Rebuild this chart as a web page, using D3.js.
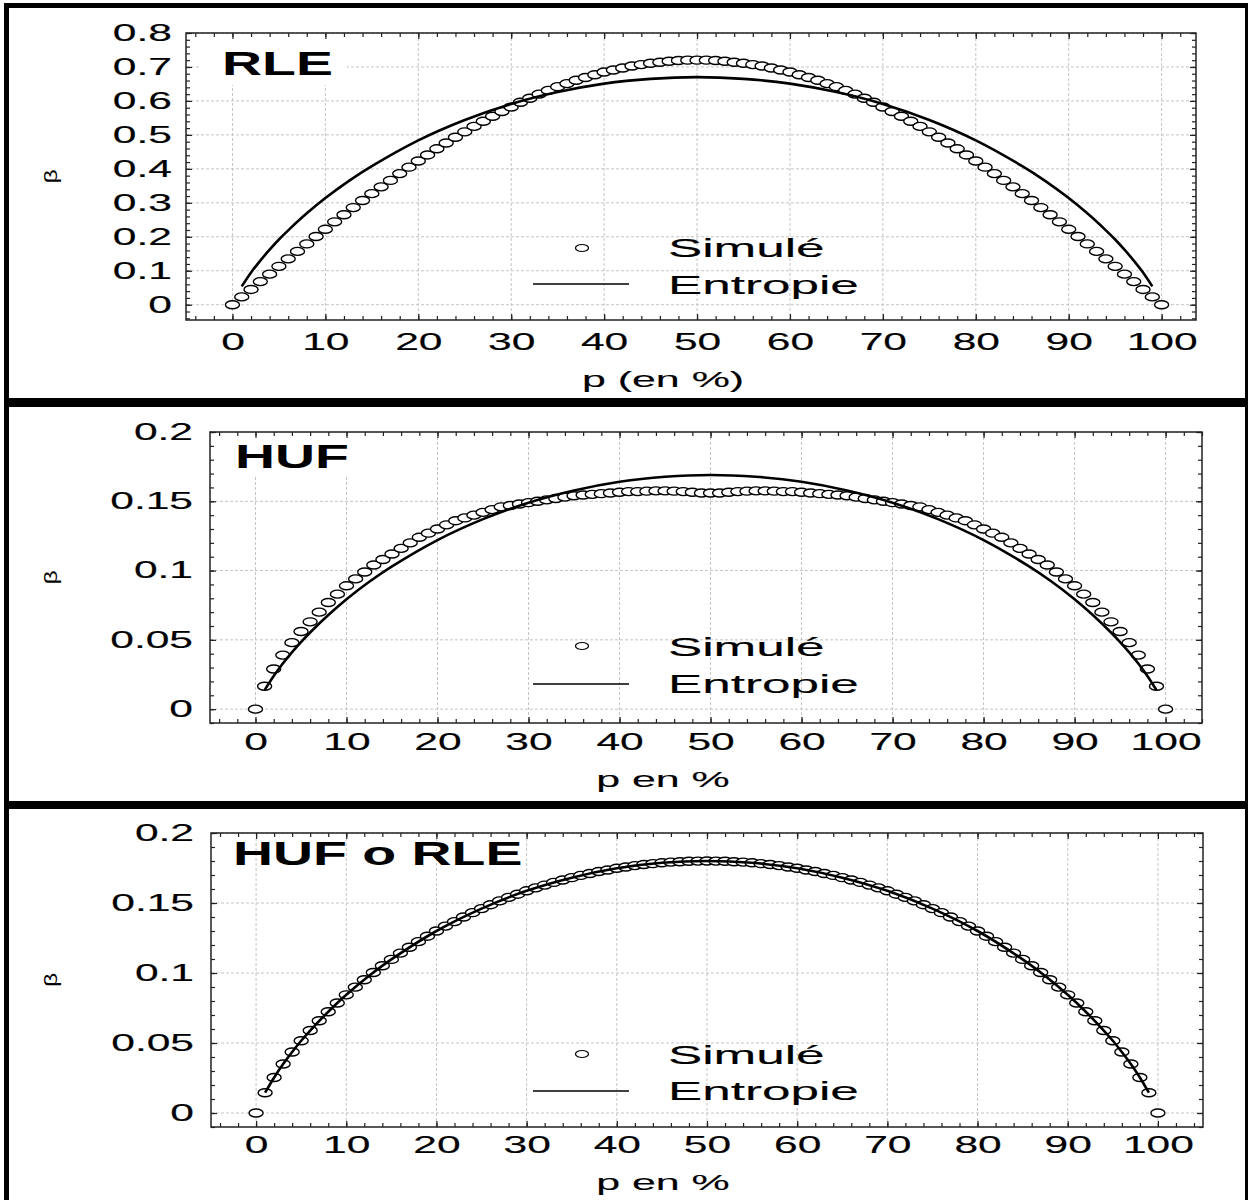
<!DOCTYPE html>
<html>
<head>
<meta charset="utf-8">
<script src="https://cdn.jsdelivr.net/npm/d3@7"></script>
<style>
  body { margin: 0; background: #fff; }
  text { font-family: "Liberation Sans", Arial, sans-serif; fill: #000; }
</style>
</head>
<body>
<div id="chart"></div>
<script>
// --- data ---
const pSim = d3.range(0, 101); // p = 0..100 (%)

const rleSim = [0,0.023,0.045,0.068,0.090,0.113,0.135,0.157,0.179,0.201,0.222,0.244,0.265,0.286,0.307,0.327,0.347,0.366,0.386,0.405,0.423,0.441,0.459,0.476,0.493,0.509,0.525,0.540,0.555,0.569,0.582,0.596,0.608,0.620,0.631,0.642,0.651,0.661,0.669,0.677,0.685,0.691,0.697,0.703,0.707,0.711,0.714,0.717,0.719,0.720,0.720,
  0.720,0.719,0.717,0.714,0.711,0.707,0.703,0.697,0.691,0.685,0.677,0.669,0.661,0.651,0.642,0.631,0.620,0.608,0.596,0.582,0.569,0.555,0.540,0.525,0.509,0.493,0.476,0.459,0.441,0.423,0.405,0.386,0.366,0.347,0.327,0.307,0.286,0.265,0.244,0.222,0.201,0.179,0.157,0.135,0.113,0.090,0.068,0.045,0.023,0];

const hufSim = [0,0.0165,0.029,0.039,0.048,0.056,0.063,0.070,0.077,0.083,0.089,0.094,0.099,0.104,0.108,0.112,0.116,0.120,0.124,0.127,0.130,0.133,0.136,0.138,0.140,0.142,0.144,0.146,0.147,0.148,0.149,0.150,0.151,0.152,0.153,0.154,0.1545,0.155,0.1555,0.156,0.1565,0.157,0.157,0.1573,0.1575,0.1575,0.1573,0.157,0.1565,0.156,0.156,
  0.156,0.1565,0.157,0.1573,0.1575,0.1575,0.1573,0.157,0.157,0.1565,0.156,0.1555,0.155,0.1545,0.154,0.153,0.152,0.151,0.150,0.149,0.148,0.147,0.146,0.144,0.142,0.140,0.138,0.136,0.133,0.130,0.127,0.124,0.120,0.116,0.112,0.108,0.104,0.099,0.094,0.089,0.083,0.077,0.070,0.063,0.056,0.048,0.039,0.029,0.0165,0];

const comboSim = [0,0.0145,0.0254,0.0350,0.0436,0.0516,0.0589,0.0659,0.0723,0.0786,0.0844,0.0899,0.0952,0.1004,0.1052,0.1097,0.1142,0.1184,0.1224,0.1263,0.1300,0.1335,0.1367,0.1400,0.1431,0.1460,0.1488,0.1515,0.1540,0.1563,0.1587,0.1608,0.1628,0.1647,0.1664,0.1681,0.1697,0.1711,0.1725,0.1736,0.1748,0.1757,0.1767,0.1775,0.1781,0.1787,0.1792,0.1795,0.1798,0.1799,0.1800,
  0.1799,0.1798,0.1795,0.1792,0.1787,0.1781,0.1775,0.1767,0.1757,0.1748,0.1736,0.1725,0.1711,0.1697,0.1681,0.1664,0.1647,0.1628,0.1608,0.1587,0.1563,0.1540,0.1515,0.1488,0.1460,0.1431,0.1400,0.1367,0.1335,0.1300,0.1263,0.1224,0.1184,0.1142,0.1097,0.1052,0.1004,0.0952,0.0899,0.0844,0.0786,0.0723,0.0659,0.0589,0.0516,0.0436,0.0350,0.0254,0.0145,0];

const pLine = [1,2,3,4,5,6,8,10,12.5,15,20,25,30,35,40,45,50,55,60,65,70,75,80,85,87.5,90,92,94,95,96,97,98,99];

const rleEntropy = [0.054,0.095,0.130,0.162,0.192,0.219,0.269,0.314,0.364,0.408,0.484,0.544,0.591,0.626,0.651,0.665,0.670,
  0.665,0.651,0.626,0.591,0.544,0.484,0.408,0.364,0.314,0.269,0.219,0.192,0.162,0.130,0.095,0.054];
const hufEntropy = [0.0137,0.0239,0.0329,0.0410,0.0484,0.0553,0.0679,0.0793,0.0919,0.1030,0.1220,0.1371,0.1490,0.1578,0.1641,0.1677,0.1690,
  0.1677,0.1641,0.1578,0.1490,0.1371,0.1220,0.1030,0.0919,0.0793,0.0679,0.0553,0.0484,0.0410,0.0329,0.0239,0.0137];
const comboEntropy = [0.0145,0.0254,0.0350,0.0436,0.0516,0.0589,0.0723,0.0844,0.0978,0.1097,0.1300,0.1460,0.1587,0.1681,0.1748,0.1787,0.1800,
  0.1787,0.1748,0.1681,0.1587,0.1460,0.1300,0.1097,0.0978,0.0844,0.0723,0.0589,0.0516,0.0436,0.0350,0.0254,0.0145];

const xTicks = [0,10,20,30,40,50,60,70,80,90,100];
const yTicksRle = [0,0.1,0.2,0.3,0.4,0.5,0.6,0.7,0.8];
const yTicksHuf = [0,0.05,0.1,0.15,0.2];
const titles = ["RLE", "HUF", "HUF o RLE"];
const xLabels = ["p (en %)", "p en %", "p en %"];
const legendLabels = ["Simulé", "Entropie"];

// --- layout of each panel ---
const panels = [
  { sim: rleSim, ent: rleEntropy, yTicks: yTicksRle, yStep: 0.02,
    left: 186, right: 1196, top: 33, bottom: 320, xDom: [-5, 103.7], yDom: [-0.045, 0.8],
    yPad: 14, xPad: 14, xLabY: 387, titleX: 222, titleY: 75, box: [200, 347, 85],
    legMark: 248, legLine: 284, legText: [257, 294] },
  { sim: hufSim, ent: hufEntropy, yTicks: yTicksHuf, yStep: 0.01,
    left: 210, right: 1202, top: 432, bottom: 723, xDom: [-5, 104], yDom: [-0.01, 0.2],
    yPad: 17, xPad: 11, xLabY: 787, titleX: 235, titleY: 468, box: [225, 360, 477],
    legMark: 646, legLine: 684, legText: [656, 693] },
  { sim: comboSim, ent: comboEntropy, yTicks: yTicksHuf, yStep: 0.01,
    left: 211, right: 1203, top: 833, bottom: 1127, xDom: [-5, 105], yDom: [-0.01, 0.2],
    yPad: 17, xPad: 10, xLabY: 1190, titleX: 233, titleY: 865, box: null,
    legMark: 1054, legLine: 1091, legText: [1064, 1100] }
];

const width = 1248, height = 1200;
const SX_TICK = 1.85, SX_TEXT = 2.05, SX_TITLE = 1.68;

const svg = d3.select("#chart").append("svg")
  .attr("width", width).attr("height", height);

// the original is stretched sideways, so the text is too
function stretch(sel, sx) {
  sel.attr("transform", function () {
    const tx = +this.getAttribute("x") || 0;
    return `translate(${tx},0) scale(${sx},1) translate(${-tx},0)`;
  });
}

panels.forEach((P, i) => {
  const g = svg.append("g");
  const x = d3.scaleLinear().domain(P.xDom).range([P.left, P.right]);
  const y = d3.scaleLinear().domain(P.yDom).range([P.bottom, P.top]);

  // gridlines
  const grid = g.append("g").attr("stroke", "#c4c4c4").attr("stroke-width", 1)
    .attr("stroke-dasharray", "3,2");
  grid.selectAll(".gx").data(xTicks).join("line")
    .attr("x1", d => x(d)).attr("x2", d => x(d))
    .attr("y1", P.top).attr("y2", P.bottom);
  grid.selectAll(".gy").data(P.yTicks).join("line")
    .attr("x1", P.left).attr("x2", P.right)
    .attr("y1", d => y(d)).attr("y2", d => y(d));

  // white patch behind the title
  if (P.box) {
    g.append("rect").attr("x", P.box[0]).attr("y", P.top + 1)
      .attr("width", P.box[1] - P.box[0]).attr("height", P.box[2] - P.top - 1)
      .attr("fill", "#fff");
  }

  // minor + major ticks on all four sides, pointing inward
  const xMinor = d3.range(Math.ceil(P.xDom[0] / 2), Math.floor(P.xDom[1] / 2) + 1).map(k => k * 2);
  const yMinor = d3.range(Math.ceil(P.yDom[0] / P.yStep - 1e-9), Math.floor(P.yDom[1] / P.yStep + 1e-9) + 1)
    .map(k => +(k * P.yStep).toFixed(4));
  const noDomain = s => s.select(".domain").remove();
  [[d3.axisBottom, P.bottom], [d3.axisTop, P.top]].forEach(([ax, pos]) => {
    g.append("g").attr("transform", `translate(0,${pos})`)
      .call(ax(x).tickValues(xMinor).tickSize(-4).tickFormat("")).call(noDomain);
    g.append("g").attr("transform", `translate(0,${pos})`)
      .call(ax(x).tickValues(xTicks).tickSize(-6).tickFormat("")).call(noDomain);
  });
  [[d3.axisLeft, P.left], [d3.axisRight, P.right]].forEach(([ax, pos]) => {
    g.append("g").attr("transform", `translate(${pos},0)`)
      .call(ax(y).tickValues(yMinor).tickSize(-4).tickFormat("")).call(noDomain);
    g.append("g").attr("transform", `translate(${pos},0)`)
      .call(ax(y).tickValues(P.yTicks).tickSize(-6).tickFormat("")).call(noDomain);
  });
  g.selectAll(".tick line").attr("stroke", "#222").attr("stroke-width", 1.2);

  // frame
  g.append("rect").attr("x", P.left).attr("y", P.top)
    .attr("width", P.right - P.left).attr("height", P.bottom - P.top)
    .attr("fill", "none").attr("stroke", "#222").attr("stroke-width", 1.5);

  // tick labels
  const yAx = g.append("g").attr("transform", `translate(${P.left},0)`)
    .call(d3.axisLeft(y).tickValues(P.yTicks).tickSize(0).tickPadding(P.yPad).tickFormat(d3.format("~g")))
    .call(noDomain);
  yAx.attr("font-family", null).attr("font-size", 23);
  yAx.selectAll("text").attr("stroke", "#000").attr("stroke-width", 0.15);
  stretch(yAx.selectAll("text"), SX_TICK);

  const xAx = g.append("g").attr("transform", `translate(0,${P.bottom})`)
    .call(d3.axisBottom(x).tickValues(xTicks).tickSize(0).tickPadding(P.xPad))
    .call(noDomain);
  xAx.attr("font-family", null).attr("font-size", 23);
  xAx.selectAll("text").attr("stroke", "#000").attr("stroke-width", 0.15);
  stretch(xAx.selectAll("text"), SX_TICK);

  // simulated points
  g.append("g").selectAll("ellipse").data(P.sim).join("ellipse")
    .attr("cx", (d, k) => x(pSim[k])).attr("cy", d => y(d))
    .attr("rx", 7).attr("ry", 4)
    .attr("fill", "#fff").attr("stroke", "#000").attr("stroke-width", 1.4);

  // entropy curve
  const line = d3.line().x((d, k) => x(pLine[k])).y(d => y(d)).curve(d3.curveCatmullRom);
  g.append("path").datum(P.ent).attr("d", line)
    .attr("fill", "none").attr("stroke", "#000").attr("stroke-width", 2.6);

  // legend
  g.append("ellipse").attr("cx", 582).attr("cy", P.legMark).attr("rx", 6.5).attr("ry", 3.5)
    .attr("fill", "#fff").attr("stroke", "#000").attr("stroke-width", 1.2);
  g.append("line").attr("x1", 533).attr("x2", 629).attr("y1", P.legLine).attr("y2", P.legLine)
    .attr("stroke", "#000").attr("stroke-width", 1.6);
  legendLabels.forEach((t, k) => {
    g.append("text").attr("transform", `translate(668,${P.legText[k]}) scale(${SX_TEXT},1)`)
      .attr("font-size", 25).attr("stroke", "#000").attr("stroke-width", 0.12).text(t);
  });

  // title
  g.append("text").attr("transform", `translate(${P.titleX},${P.titleY}) scale(${SX_TITLE},1)`)
    .attr("font-size", 33).attr("font-weight", "bold").text(titles[i]);

  // axis titles
  g.append("text").attr("transform", `translate(663,${P.xLabY}) scale(1.95,1)`)
    .attr("text-anchor", "middle").attr("font-size", 22)
    .attr("stroke", "#000").attr("stroke-width", 0.12).text(xLabels[i]);
  g.append("text").attr("transform", `translate(57,${(P.top + P.bottom) / 2}) rotate(-90) scale(1.3,1)`)
    .attr("text-anchor", "middle").attr("font-size", 19).text("β");
});

// black frame around and between the panels
const frame = svg.append("g").attr("fill", "#000");
frame.append("rect").attr("x", 4).attr("y", 3).attr("width", width - 4).attr("height", 5);
frame.append("rect").attr("x", 4).attr("y", 3).attr("width", 5).attr("height", height - 3);
frame.append("rect").attr("x", 1245).attr("y", 3).attr("width", 3).attr("height", height - 3);
frame.append("rect").attr("x", 4).attr("y", 398).attr("width", width - 4).attr("height", 9);
frame.append("rect").attr("x", 4).attr("y", 801).attr("width", width - 4).attr("height", 8);
</script>
</body>
</html>
